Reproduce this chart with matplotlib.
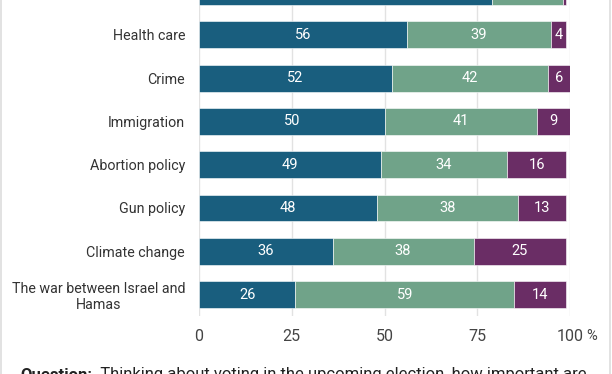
import matplotlib
matplotlib.use("Agg")
import matplotlib.pyplot as plt
from matplotlib.patches import Rectangle
import numpy as np

plt.rcParams['font.family'] = ['Roboto', 'DejaVu Sans']

categories = ["", "Health care", "Crime", "Immigration", "Abortion policy",
              "Gun policy", "Climate change", "The war between Israel and\nHamas"]
very = [79, 56, 52, 50, 49, 48, 36, 26]
somewhat = [19, 39, 42, 41, 34, 38, 38, 59]
notimp = [1, 4, 6, 9, 16, 13, 25, 14]
xticks = [0, 25, 50, 75, 100]
xticklabels = ["0", "25", "50", "75", "100"]

colors = ["#195e7e", "#70a389", "#6a2d65"]

W, H = 612, 374
fig = plt.figure(figsize=(W / 100, H / 100), dpi=100)

spacing = 43.3
c0 = -8.5
ax_top = c0 - 0.5 * spacing
ax_bot = c0 + 7.5 * spacing
left, right = 199, 570
ax = fig.add_axes([left / W, 1 - ax_bot / H, (right - left) / W, (ax_bot - ax_top) / H])

y = np.arange(len(categories))
series = [very, somewhat, notimp]
lefts = np.zeros(len(categories))
for vals, col in zip(series, colors):
    vals = np.array(vals, dtype=float)
    ax.barh(y, vals, left=lefts, height=0.62, color=col, edgecolor="white",
            linewidth=0.4, zorder=3)
    for yi, (l, v) in enumerate(zip(lefts, vals)):
        if v >= 3 and yi > 0:
            ax.text(l + v / 2, yi, f"{int(v)}", ha="center", va="center",
                    color="white", fontsize=10.5, zorder=4)
    lefts = lefts + vals

ax.set_xlim(0, 100)
ax.set_ylim(7.5, -0.5)
ax.set_yticks(y)
ax.set_yticklabels(categories, fontsize=10.3, color="#333333", multialignment="center")
ax.set_xticks(xticks)
ax.set_xticklabels(xticklabels, fontsize=11.5, color="#444444")
ax.tick_params(axis="both", length=0)
ax.tick_params(axis="y", pad=10)
ax.tick_params(axis="x", pad=9.5)
for s in ax.spines.values():
    s.set_visible(False)
ax.grid(axis="x", color="#e2e2e2", linewidth=1, zorder=0)
ax.set_axisbelow(True)

# percent sign after 100
fig.text(586 / W, 1 - 340.5 / H, "%", fontsize=10.5, color="#444444", ha="left", va="baseline")

# frame border
fig.patches.append(Rectangle((1 / W, -0.1), (609 / W), 1.3, transform=fig.transFigure,
                             fill=False, edgecolor="#dddddd", linewidth=1.2))

t1 = fig.text(20 / W, 1 - 367.5 / H, "Question:", fontsize=12, fontweight="bold",
              color="#222222", ha="left", va="top")
ax.annotate("  Thinking about voting in the upcoming election, how important are",
            xy=(1, 0), xycoords=t1, va="bottom", ha="left", fontsize=12,
            color="#222222", annotation_clip=False)

fig.savefig("out.png", dpi=100)
